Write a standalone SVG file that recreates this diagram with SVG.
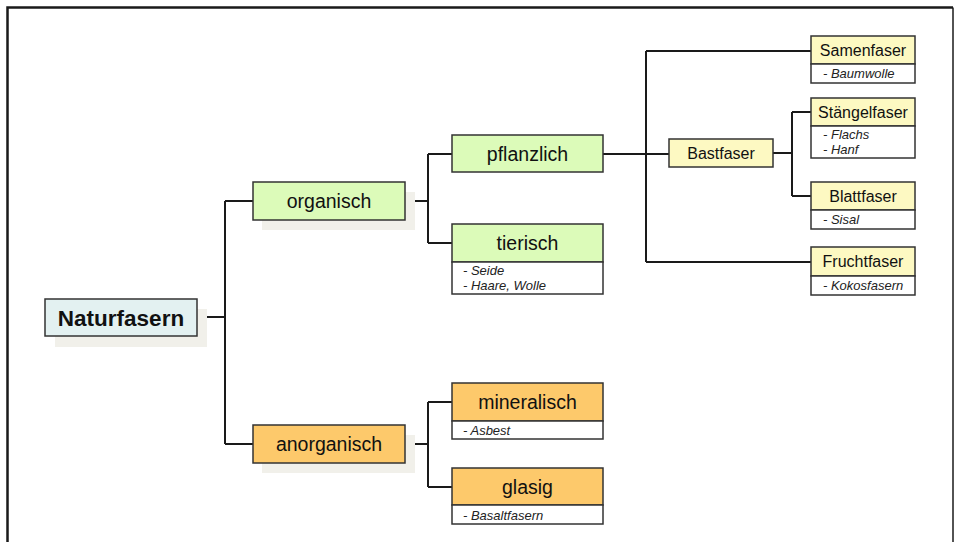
<svg xmlns="http://www.w3.org/2000/svg" width="955" height="542" viewBox="0 0 955 542">
<style>
  .box { stroke: #333; stroke-width: 1.5; }
  .shadow { fill: #f1f0ea; stroke: none; }
  .root { fill: #e3f1f1; }
  .green { fill: #dcfbb9; }
  .orange { fill: #fdc96b; }
  .yellow { fill: #fdf9c2; }
  .sub { fill: #ffffff; }
  .t { font-family: "Liberation Sans", Arial, sans-serif; fill: #111; text-anchor: middle; }
  .big { font-size: 19.5px; }
  .mid { font-size: 16px; }
  .s { font-family: "Liberation Sans", Arial, sans-serif; font-style: italic; font-size: 13px; fill: #222; }
  .conn { fill: none; stroke: #1a1a1a; stroke-width: 2; }
</style>
<rect x="0" y="0" width="955" height="542" fill="#ffffff"/>
<path d="M7.5,542 V7.5 H953" fill="none" stroke="#1a1a1a" stroke-width="2.5"/>
<path d="M953,7.5 V542" fill="none" stroke="#1a1a1a" stroke-width="1.5"/>

<g id="connectors">
  <path class="conn" d="M197,317 H225 M225,201 V444 M225,201 H253 M225,444 H253"/>
  <path class="conn" d="M405,201 H428 M428,154 V243 M428,154 H452 M428,243 H452"/>
  <path class="conn" d="M405,444 H428 M428,402 V487 M428,402 H452 M428,487 H452"/>
  <path class="conn" d="M603,154 H669 M646,51 V262 M646,51 H811 M646,262 H811"/>
  <path class="conn" d="M773,153 H792 M792,112 V196 M792,112 H811 M792,196 H811"/>
</g>

<g id="naturfasern">
  <rect class="shadow" x="55" y="309" width="152" height="38"/>
  <rect class="box root" x="45" y="299" width="152" height="37"/>
  <text class="t" x="121" y="325.5" font-size="22.5" font-weight="bold">Naturfasern</text>
</g>

<g id="organisch">
  <rect class="shadow" x="262" y="192" width="153" height="38"/>
  <rect class="box green" x="253" y="182" width="152" height="38"/>
  <text class="t big" x="329" y="208">organisch</text>
</g>

<g id="anorganisch">
  <rect class="shadow" x="262" y="435" width="153" height="38"/>
  <rect class="box orange" x="253" y="425" width="152" height="38"/>
  <text class="t big" x="329" y="451">anorganisch</text>
</g>

<g id="pflanzlich">
  <rect class="box green" x="452" y="135" width="151" height="37"/>
  <text class="t big" x="527.5" y="160.5">pflanzlich</text>
</g>

<g id="tierisch">
  <rect class="box green" x="452" y="224" width="151" height="38"/>
  <rect class="box sub" x="452" y="262" width="151" height="32"/>
  <text class="t big" x="527.5" y="250">tierisch</text>
  <text class="s" x="463" y="275">- Seide</text>
  <text class="s" x="463" y="290">- Haare, Wolle</text>
</g>

<g id="mineralisch">
  <rect class="box orange" x="452" y="383" width="151" height="38"/>
  <rect class="box sub" x="452" y="421" width="151" height="18"/>
  <text class="t big" x="527.5" y="409">mineralisch</text>
  <text class="s" x="463" y="435">- Asbest</text>
</g>

<g id="glasig">
  <rect class="box orange" x="452" y="468" width="151" height="37"/>
  <rect class="box sub" x="452" y="505" width="151" height="19"/>
  <text class="t big" x="527.5" y="493.5">glasig</text>
  <text class="s" x="463" y="519.5">- Basaltfasern</text>
</g>

<g id="bastfaser">
  <rect class="box yellow" x="669" y="139" width="104" height="28"/>
  <text class="t mid" x="721" y="158.5">Bastfaser</text>
</g>

<g id="samenfaser">
  <rect class="box yellow" x="811" y="36" width="104" height="28"/>
  <rect class="box sub" x="811" y="64" width="104" height="19"/>
  <text class="t mid" x="863" y="55.5">Samenfaser</text>
  <text class="s" x="823" y="78">- Baumwolle</text>
</g>

<g id="staengelfaser">
  <rect class="box yellow" x="811" y="98" width="104" height="28"/>
  <rect class="box sub" x="811" y="126" width="104" height="32"/>
  <text class="t mid" x="863" y="117.5">Stängelfaser</text>
  <text class="s" x="823" y="139">- Flachs</text>
  <text class="s" x="823" y="154">- Hanf</text>
</g>

<g id="blattfaser">
  <rect class="box yellow" x="811" y="182" width="104" height="28"/>
  <rect class="box sub" x="811" y="210" width="104" height="19"/>
  <text class="t mid" x="863" y="201.5">Blattfaser</text>
  <text class="s" x="823" y="224">- Sisal</text>
</g>

<g id="fruchtfaser">
  <rect class="box yellow" x="811" y="247" width="104" height="29"/>
  <rect class="box sub" x="811" y="276" width="104" height="19"/>
  <text class="t mid" x="863" y="267">Fruchtfaser</text>
  <text class="s" x="823" y="290">- Kokosfasern</text>
</g>
</svg>
